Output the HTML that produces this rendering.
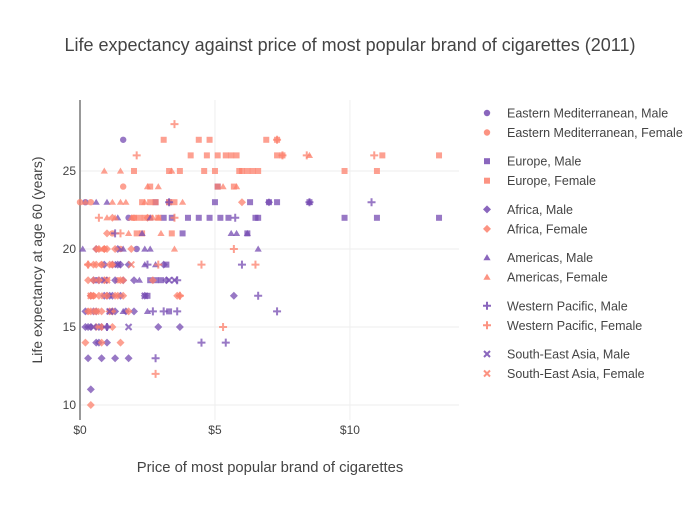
<!DOCTYPE html>
<html><head><meta charset="utf-8"><style>
body{margin:0;background:#fff;font-family:"Liberation Sans",sans-serif}
svg text{font-family:"Liberation Sans",sans-serif;fill:#444}
</style></head><body>
<svg id="c" width="700" height="500" xmlns="http://www.w3.org/2000/svg">
<text x="350" y="51" text-anchor="middle" font-size="18">Life expectancy against price of most popular brand of cigarettes (2011)</text>
<g id="grid"></g>
<g id="axes"></g>
<g id="marks"></g>
<g id="legend"></g>
<text x="270" y="472" text-anchor="middle" font-size="14.8">Price of most popular brand of cigarettes</text>
<text transform="translate(42,260) rotate(-90)" text-anchor="middle" font-size="14">Life expectancy at age 60 (years)</text>
</svg>
<script>
const xTicks=[0,5,10];
const xTickLabels=["$0","$5","$10"];
const yTicks=[10,15,20,25];
const seriesNames=["Eastern Mediterranean, Male","Eastern Mediterranean, Female","Europe, Male","Europe, Female","Africa, Male","Africa, Female","Americas, Male","Americas, Female","Western Pacific, Male","Western Pacific, Female","South-East Asia, Male","South-East Asia, Female"];
const emMaleX=[1.6,1.8,0.2,2.1,0.6,1.1];
const emMaleY=[27,22,23,20,18,16];
const emFemaleX=[1.6,0.0,1.2,0.4,2.0,1.5,0.8,0.5,1.4,0.9,0.3];
const emFemaleY=[24,23,21,23,22,20,19,17,18,20,16];
const euMaleX=[2.8,3.3,5.0,6.3,7.0,7.3,8.5,3.1,3.4,4.0,4.4,4.8,5.2,5.5,6.5,6.6,9.8,11.0,13.3,3.8,6.2,3.2,2.6,2.8,3.0,3.3,5.1,2.5];
const euMaleY=[23,23,23,23,23,23,23,22,22,22,22,22,22,22,22,22,22,22,22,21,21,19,18,18,18,16,24,17];
const euFemaleX=[3.1,4.4,4.8,6.9,7.3,4.1,4.7,5.1,5.4,5.6,5.8,7.5,11.2,3.3,3.7,4.6,5.0,5.9,6.0,6.2,6.4,6.6,9.8,11.0,13.3,2.6,5.1,5.7,2.3,2.6,2.8,3.3,3.5,2.0,2.2,2.4,2.6,2.9,2.1,2.3,3.4,2.0,7.3];
const euFemaleY=[27,27,27,27,27,26,26,26,26,26,26,26,26,25,25,25,25,25,25,25,25,25,25,25,26,24,24,24,23,23,23,23,23,22,22,22,22,22,21,21,21,25,26];
const afMaleX=[0.4,0.3,0.8,1.3,1.8,0.6,1.0,0.3,0.7,1.0,2.9,3.7,0.5,1.2,2.0,0.4,0.9,1.5,5.7,0.7,1.3,2.0,1.2,1.5,3.1,1.4,7.0,0.2,0.6,1.1,1.6,0.9,2.4,3.2,1.7,0.4,0.8,1.3,0.5,1.0,1.4,0.6,1.2,0.2,0.7,1.8];
const afMaleY=[11,13,13,13,13,14,14,15,15,15,15,15,16,16,16,17,17,17,17,18,18,18,19,19,19,20,23,15,16,17,18,19,17,18,16,15,15,16,18,17,19,20,17,16,14,19];
const afFemaleX=[0.4,0.2,0.8,1.5,0.6,1.2,0.3,0.8,1.8,0.5,1.0,1.6,3.7,0.3,1.0,1.6,0.5,0.8,1.1,0.6,0.9,1.3,1.0,1.2,2.5,6.0,0.4,0.7,1.4,0.9,1.2,0.6,2.7,3.6,0.4,0.7,1.1,0.5,0.9,1.3,0.6,1.0,0.3,0.7,1.5,0.8,1.2,0.4,1.9];
const afFemaleY=[10,14,14,14,15,15,16,16,16,17,17,17,17,18,18,18,19,19,19,20,20,20,21,22,22,23,17,18,17,20,19,16,18,17,16,17,16,18,18,17,19,20,19,20,18,15,16,17,20];
const amMaleX=[0.6,8.5,1.4,2.6,2.3,5.6,5.8,6.2,0.1,1.6,2.4,2.6,6.6,2.4,2.8,2.2,1.6,2.5,1.0];
const amMaleY=[23,23,22,22,21,21,21,21,20,20,20,20,20,19,19,18,16,16,23];
const amFemaleX=[0.9,1.5,3.4,2.5,2.9,5.3,5.8,0.2,1.2,1.5,1.7,2.4,3.8,1.0,1.3,1.9,2.7,2.9,1.8,3.0,0.7,3.5,8.5,1.2];
const amFemaleY=[25,25,25,24,24,24,24,23,23,23,23,23,23,22,22,22,22,22,21,21,20,20,26,19];
const wpMaleX=[5.75,8.5,10.8,1.3,6.0,3.6,6.6,2.7,3.1,3.6,7.3,4.5,5.4,2.8,1.0,3.3,2.5];
const wpMaleY=[22,23,23,21,19,18,17,16,16,16,16,14,14,13,15,23,19];
const wpFemaleX=[3.5,2.1,10.9,8.4,7.5,7.3,0.7,3.5,1.5,5.7,2.9,4.5,6.5,3.7,5.3,2.8,0.3];
const wpFemaleY=[28,26,26,26,26,27,22,22,21,20,19,19,19,17,15,12,19];
const seaMaleX=[3.3,3.5,1.1,0.5,1.8,1.4,2.4,0.9];
const seaMaleY=[18,18,16,15,15,19,17,18];
const seaFemaleX=[0.9,1.0,0.6,1.9,0.4];
const seaFemaleY=[17,18,16,19,17];

const NS="http://www.w3.org/2000/svg";
const L=80,R=459,T=100,B=420;
const X0=0,X1=14.04,Y0=9.04,Y1=29.55;
const sx=v=>L+(v-X0)/(X1-X0)*(R-L);
const sy=v=>B-(v-Y0)/(Y1-Y0)*(B-T);
function mk(tag,attrs,parent){const e=document.createElementNS(NS,tag);for(const k in attrs)e.setAttribute(k,attrs[k]);parent.appendChild(e);return e;}
const grid=document.getElementById('grid'),axes=document.getElementById('axes'),marks=document.getElementById('marks'),legend=document.getElementById('legend');
yTicks.forEach(v=>{
  const l=mk('line',{x1:L,x2:R,y1:sy(v),y2:sy(v),stroke:'#eee','stroke-width':1},grid);
  
  
  const t=mk('text',{x:L-4,y:sy(v)+4,'text-anchor':'end','font-size':12},axes);
  t.textContent=v;
  
  
});
xTicks.forEach((v,i)=>{
  if(v>0){const l=mk('line',{x1:sx(v),x2:sx(v),y1:T,y2:B,stroke:'#eee','stroke-width':1},grid);
  
  }
  const t=mk('text',{x:sx(v),y:B+14,'text-anchor':'middle','font-size':12},axes);
  t.textContent=xTickLabels[i];
  
  
});
const al=mk('line',{x1:L,x2:L,y1:T,y2:B,stroke:'#999','stroke-width':2},axes);



const PURPLE='rgb(117,75,177)',SALMON='rgb(252,128,108)';
const shapes=['circle','square','diamond','triangle','cross','x'];
function marker(shape,cx,cy,col,op,parent){
  let e;
  if(shape==='circle') e=mk('circle',{cx,cy,r:3.2,fill:col,'fill-opacity':op},parent);
  else if(shape==='square') e=mk('rect',{x:cx-3,y:cy-3,width:6,height:6,fill:col,'fill-opacity':op},parent);
  else if(shape==='diamond') e=mk('path',{d:`M${cx},${cy-4}L${cx+4},${cy}L${cx},${cy+4}L${cx-4},${cy}Z`,fill:col,'fill-opacity':op},parent);
  else if(shape==='triangle') e=mk('path',{d:`M${cx},${cy-3.5}L${cx+3.6},${cy+2.6}L${cx-3.6},${cy+2.6}Z`,fill:col,'fill-opacity':op},parent);
  else if(shape==='cross') e=mk('path',{d:`M${cx-4},${cy}H${cx+4}M${cx},${cy-4}V${cy+4}`,stroke:col,'stroke-width':2,'stroke-opacity':op,fill:'none'},parent);
  else e=mk('path',{d:`M${cx-3},${cy-3}L${cx+3},${cy+3}M${cx+3},${cy-3}L${cx-3},${cy+3}`,stroke:col,'stroke-width':2,'stroke-opacity':op,fill:'none'},parent);
  return e;
}
const series=[[emMaleX,emMaleY],[emFemaleX,emFemaleY],[euMaleX,euMaleY],[euFemaleX,euFemaleY],[afMaleX,afMaleY],[afFemaleX,afFemaleY],[amMaleX,amMaleY],[amFemaleX,amFemaleY],[wpMaleX,wpMaleY],[wpFemaleX,wpFemaleY],[seaMaleX,seaMaleY],[seaFemaleX,seaFemaleY]];
series.forEach((s,i)=>{
  const col=i%2?SALMON:PURPLE,shape=shapes[Math.floor(i/2)];
  s[0].forEach((xv,j)=>{
    const e=marker(shape,sx(xv),sy(s[1][j]),col,0.75,marks);
    
    
  });
  const ly=113+Math.floor(i/2)*48.2+(i%2)*19.5;
  const g=mk('g',{},legend);
  
  
  marker(shape,487,ly,col,0.85,g);
  const t=mk('text',{x:507,y:ly+4.5,'font-size':12.5},g);
  t.textContent=seriesNames[i];
});
</script>
</body></html>
